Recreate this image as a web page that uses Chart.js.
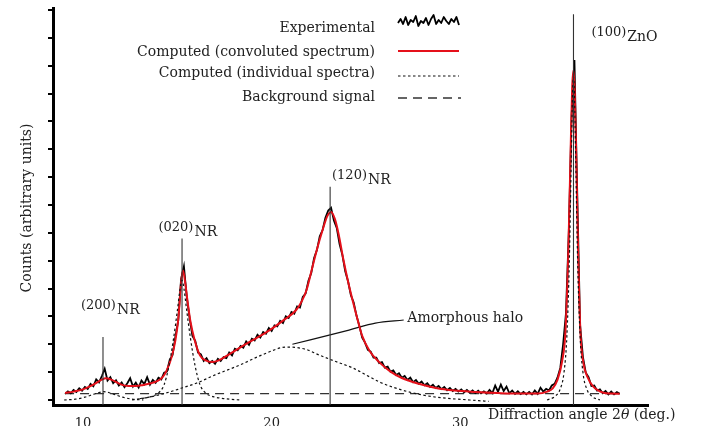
<!DOCTYPE html>
<html>
<head>
<meta charset="utf-8">
<script src="https://cdn.jsdelivr.net/npm/chart.js@4.4.1/dist/chart.umd.min.js"></script>
<style>
  html, body { margin: 0; padding: 0; background: #fff; }
</style>
</head>
<body>
<canvas id="chart" width="713" height="426"></canvas>
<script>
// experimental diffractogram (counts, arbitrary units) vs 2theta
const expX = [
  9.05, 9.2, 9.35, 9.5, 9.65, 9.8, 9.95, 10.1, 10.25, 10.4,
  10.55, 10.7, 10.85, 11.0, 11.15, 11.3, 11.45, 11.6, 11.75, 11.9,
  12.05, 12.2, 12.35, 12.5, 12.65, 12.8, 12.95, 13.1, 13.25, 13.4,
  13.55, 13.7, 13.85, 14.0, 14.15, 14.3, 14.45, 14.6, 14.75, 14.9,
  15.05, 15.2, 15.35, 15.5, 15.65, 15.8, 15.95, 16.1, 16.25, 16.4,
  16.55, 16.7, 16.85, 17.0, 17.15, 17.3, 17.45, 17.6, 17.75, 17.9,
  18.05, 18.2, 18.35, 18.5, 18.65, 18.8, 18.95, 19.1, 19.25, 19.4,
  19.55, 19.7, 19.85, 20.0, 20.15, 20.3, 20.45, 20.6, 20.75, 20.9,
  21.05, 21.2, 21.35, 21.5, 21.65, 21.8, 21.95, 22.1, 22.25, 22.4,
  22.55, 22.7, 22.85, 23.0, 23.15, 23.3, 23.45, 23.6, 23.75, 23.9,
  24.05, 24.2, 24.35, 24.5, 24.65, 24.8, 24.95, 25.1, 25.25, 25.4,
  25.55, 25.7, 25.85, 26.0, 26.15, 26.3, 26.45, 26.6, 26.75, 26.9,
  27.05, 27.2, 27.35, 27.5, 27.65, 27.8, 27.95, 28.1, 28.25, 28.4,
  28.55, 28.7, 28.85, 29.0, 29.15, 29.3, 29.45, 29.6, 29.75, 29.9,
  30.05, 30.2, 30.35, 30.5, 30.65, 30.8, 30.95, 31.1, 31.25, 31.4,
  31.55, 31.7, 31.85, 32.0, 32.15, 32.3, 32.45, 32.6, 32.75, 32.9,
  33.05, 33.2, 33.35, 33.5, 33.65, 33.8, 33.95, 34.1, 34.25, 34.4,
  34.55, 34.7, 34.85, 35.0, 35.15, 35.3, 35.45, 35.6, 35.75, 35.9,
  36.05, 36.2, 36.35, 36.5, 36.65, 36.8, 36.95, 37.1, 37.25, 37.4,
  37.55, 37.7, 37.85, 38.0, 38.15, 38.3, 38.45
];
const expY = [
  0.22, 0.31, 0.24, 0.36, 0.29, 0.42, 0.33, 0.47, 0.40, 0.58,
  0.49, 0.74, 0.63, 0.86, 1.12, 0.70, 0.82, 0.60, 0.71, 0.52,
  0.63, 0.46, 0.60, 0.78, 0.48, 0.62, 0.45, 0.70, 0.57, 0.82,
  0.55, 0.72, 0.62, 0.80, 0.74, 0.98, 1.02, 1.45, 1.62, 2.28,
  2.85, 4.35, 4.80, 3.70, 2.95, 2.30, 2.12, 1.70, 1.64, 1.40,
  1.50, 1.32, 1.40, 1.30, 1.48, 1.40, 1.54, 1.50, 1.70, 1.60,
  1.84, 1.78, 1.94, 1.88, 2.10, 1.98, 2.20, 2.14, 2.34, 2.24,
  2.44, 2.38, 2.58, 2.48, 2.68, 2.64, 2.84, 2.76, 3.00, 2.94,
  3.16, 3.10, 3.36, 3.32, 3.70, 3.82, 4.28, 4.56, 5.10, 5.38,
  5.88, 6.10, 6.54, 6.80, 6.90, 6.44, 6.18, 5.60, 5.20, 4.62,
  4.26, 3.76, 3.50, 3.02, 2.66, 2.24, 2.06, 1.80, 1.74, 1.52,
  1.52, 1.32, 1.36, 1.16, 1.20, 1.02, 1.06, 0.90, 0.96, 0.80,
  0.86, 0.72, 0.80, 0.64, 0.72, 0.58, 0.66, 0.53, 0.60, 0.47,
  0.55, 0.43, 0.50, 0.39, 0.47, 0.35, 0.43, 0.32, 0.40, 0.30,
  0.38, 0.28, 0.36, 0.26, 0.34, 0.25, 0.33, 0.24, 0.31, 0.23,
  0.36, 0.25, 0.52, 0.30, 0.55, 0.32, 0.48, 0.24, 0.34, 0.22,
  0.31, 0.21, 0.29, 0.20, 0.29, 0.20, 0.34, 0.22, 0.44, 0.30,
  0.40, 0.34, 0.52, 0.58, 0.80, 1.15, 2.00, 3.10, 6.00, 10.20,
  12.20, 7.40, 2.70, 1.55, 0.98, 0.82, 0.50, 0.52, 0.34, 0.38,
  0.24, 0.32, 0.20, 0.30, 0.20, 0.28, 0.22
];

// computed convoluted spectrum
const fitX = [
  9.05, 9.5, 10.0, 10.5, 11.0, 11.2, 11.5, 12.0, 12.4, 12.8,
  13.2, 13.6, 13.9, 14.2, 14.45, 14.7, 14.9, 15.05, 15.2, 15.3,
  15.4, 15.55, 15.7, 15.9, 16.2, 16.5, 16.85, 17.2, 17.7, 18.3,
  19.0, 19.9, 20.6, 21.3, 21.6, 21.85, 22.1, 22.4, 22.7, 22.95,
  23.15, 23.35, 23.55, 23.8, 24.05, 24.3, 24.55, 24.8, 25.2, 25.7,
  26.3, 26.9, 27.8, 28.7, 29.7, 30.8, 32.0, 33.0, 34.1, 34.6,
  34.9, 35.15, 35.4, 35.57, 35.73, 35.85, 35.93, 36.0, 36.07, 36.15,
  36.25, 36.37, 36.52, 36.74, 37.05, 37.59, 38.0, 38.45
];
const fitY = [
  0.25, 0.30, 0.38, 0.53, 0.73, 0.78, 0.73, 0.56, 0.50, 0.50,
  0.54, 0.60, 0.67, 0.80, 1.08, 1.55, 2.15, 2.90, 4.20, 4.65,
  4.30, 3.50, 2.80, 2.20, 1.60, 1.42, 1.36, 1.42, 1.62, 1.87,
  2.15, 2.51, 2.85, 3.23, 3.55, 3.95, 4.60, 5.40, 6.10, 6.60,
  6.75, 6.50, 5.95, 5.05, 4.25, 3.55, 2.90, 2.30, 1.75, 1.36,
  1.02, 0.79, 0.58, 0.43, 0.34, 0.29, 0.25, 0.23, 0.23, 0.30,
  0.42, 0.72, 1.40, 2.40, 5.40, 9.00, 11.20, 11.84, 11.00, 8.60,
  5.20, 2.40, 1.35, 0.83, 0.48, 0.26, 0.23, 0.22
];

// computed individual spectra
const p200X = [9.0, 9.6, 10.1, 10.5, 10.8, 11.1, 11.4, 11.7, 12.1, 12.6, 13.2];
const p200Y = [0.0, 0.03, 0.10, 0.19, 0.26, 0.30, 0.26, 0.19, 0.10, 0.03, 0.0];
const p020X = [13.0, 13.6, 14.0, 14.3, 14.55, 14.8, 15.0, 15.15, 15.25, 15.35, 15.5, 15.7, 15.95, 16.2, 16.5, 16.9, 17.5, 18.3];
const p020Y = [0.05, 0.12, 0.25, 0.55, 1.20, 2.20, 3.20, 4.00, 4.30, 4.00, 3.20, 2.20, 1.20, 0.55, 0.25, 0.12, 0.05, 0.0];
const haloX = [12.6, 13.5, 14.4, 15.2, 16.0, 17.0, 18.3, 19.5, 20.8, 21.8, 22.5, 23.4, 24.3, 25.0, 25.8, 26.9, 28.0, 29.0, 30.5, 31.5];
const haloY = [0.0, 0.10, 0.25, 0.42, 0.60, 0.90, 1.25, 1.62, 1.90, 1.82, 1.62, 1.38, 1.15, 0.90, 0.62, 0.36, 0.18, 0.08, 0.0, -0.05];
const znoX = [34.6, 35.0, 35.3, 35.5, 35.65, 35.78, 35.88, 35.95, 36.0, 36.05, 36.12, 36.22, 36.35, 36.5, 36.7, 37.0, 37.4];
const znoY = [0.0, 0.12, 0.40, 1.00, 2.30, 5.00, 8.60, 11.00, 11.60, 11.00, 8.60, 5.00, 2.30, 1.00, 0.40, 0.12, 0.0];

// background signal
const bgX = [9.05, 38.45];
const bgY = [0.23, 0.23];

// peak markers and labels
const peakName = ['(200)', '(020)', '(120)', '(100)'];
const peakPhase = ['NR', 'NR', 'NR', 'ZnO'];
const peakPos = [11.06, 15.25, 23.1, 36.0];
const peakTop = [2.26, 5.8, 7.65, 13.85];

// axis ticks
const xTicks = [10, 20, 30];

const labelAt = [[9.89, 3.27], [14.0, 6.07], [23.2, 7.93], [36.95, 13.07]];
const haloLeaderX = [21.1, 24.1, 25.5, 27.0];
const haloLeaderY = [2.0, 2.51, 2.76, 2.87];

const legendNames = ['Experimental', 'Computed (convoluted spectrum)', 'Computed (individual spectra)', 'Background signal'];
const legendNoise = [0, -4, 1, -6, 2, -3, -1, -7, 3, -2, 0, -5, 2, -4, -8, 1, -3, 0, -6, -2, 1, -4, -1, -6, 2];

const pts = (xs, ys) => xs.map((x, i) => ({ x: x, y: ys[i] }));
const SERIF = '"DejaVu Serif", serif';
const INK = '#222';

const dotted = (xs, ys) => ({
  data: pts(xs, ys),
  borderColor: '#111',
  borderWidth: 1.2,
  borderDash: [2.5, 2.5],
  pointRadius: 0,
  cubicInterpolationMode: 'monotone',
});

const markers = peakPos.map((p, i) => ({
  data: [{ x: p, y: -0.18 }, { x: p, y: peakTop[i] }],
  borderColor: '#333',
  borderWidth: 1.1,
  pointRadius: 0,
}));

const overlay = {
  id: 'overlay',
  afterDatasetsDraw(chart) {
    const { ctx, chartArea } = chart;
    const sx = chart.scales.x, sy = chart.scales.y;
    ctx.save();
    ctx.fillStyle = INK;
    ctx.textAlign = 'left';
    ctx.textBaseline = 'alphabetic';

    // peak labels
    peakName.forEach((name, i) => {
      const px = sx.getPixelForValue(labelAt[i][0]);
      const py = sy.getPixelForValue(labelAt[i][1]);
      ctx.font = '13px ' + SERIF;
      ctx.fillText(name, px, py);
      const w = ctx.measureText(name).width;
      ctx.font = '14px ' + SERIF;
      ctx.fillText(peakPhase[i], px + w + 1, py + 5);
    });

    // amorphous halo text
    ctx.font = '14px ' + SERIF;
    ctx.fillText('Amorphous halo', sx.getPixelForValue(27.19), sy.getPixelForValue(2.8));

    // y title
    ctx.save();
    ctx.translate(27, 208);
    ctx.rotate(-Math.PI / 2);
    ctx.textAlign = 'center';
    ctx.textBaseline = 'middle';
    ctx.font = '14px ' + SERIF;
    ctx.fillText('Counts (arbitrary units)', 0, 0);
    ctx.restore();

    // x title
    ctx.textBaseline = 'alphabetic';
    let tx = 488, ty = 419;
    ctx.font = '14px ' + SERIF;
    const a = 'Diffraction angle 2';
    ctx.fillText(a, tx, ty);
    tx += ctx.measureText(a).width;
    ctx.font = 'italic 14px ' + SERIF;
    ctx.fillText('\u03B8', tx, ty);
    tx += ctx.measureText('\u03B8').width;
    ctx.font = '14px ' + SERIF;
    ctx.fillText(' (deg.)', tx, ty);

    // legend
    const textY = [28, 52, 73, 97];
    const lineY = [20, 51, 76, 98];
    ctx.font = '14px ' + SERIF;
    ctx.textAlign = 'right';
    ctx.textBaseline = 'middle';
    legendNames.forEach((n, i) => ctx.fillText(n, 375, textY[i]));
    const x0 = 398, x1 = 459;
    ctx.lineJoin = 'round';
    // experimental sample
    ctx.strokeStyle = '#000';
    ctx.lineWidth = 1.8;
    ctx.beginPath();
    legendNoise.forEach((d, k) => {
      const px = x0 + (x1 - x0) * k / (legendNoise.length - 1);
      k ? ctx.lineTo(px, lineY[0] + d + 3) : ctx.moveTo(px, lineY[0] + d + 3);
    });
    ctx.stroke();
    // red
    ctx.strokeStyle = '#e5101a';
    ctx.lineWidth = 2;
    ctx.beginPath(); ctx.moveTo(x0, lineY[1]); ctx.lineTo(x1, lineY[1]); ctx.stroke();
    // dotted
    ctx.strokeStyle = '#111';
    ctx.lineWidth = 1.2;
    ctx.setLineDash([2.5, 2.5]);
    ctx.beginPath(); ctx.moveTo(x0, lineY[2]); ctx.lineTo(x1, lineY[2]); ctx.stroke();
    // dashed
    ctx.strokeStyle = '#333';
    ctx.lineWidth = 1.3;
    ctx.setLineDash([9, 6]);
    ctx.beginPath(); ctx.moveTo(x0, lineY[3]); ctx.lineTo(x1 + 2, lineY[3]); ctx.stroke();
    ctx.restore();
  }
};

new Chart(document.getElementById('chart'), {
  type: 'line',
  data: {
    datasets: [
      ...markers,
      dotted(p200X, p200Y),
      dotted(p020X, p020Y),
      dotted(haloX, haloY),
      dotted(znoX, znoY),
      {
        data: pts(fitX, fitY),
        borderColor: '#e5101a',
        borderWidth: 2,
        pointRadius: 0,
        cubicInterpolationMode: 'monotone',
      },
      {
        data: pts(expX, expY),
        borderColor: '#000',
        borderWidth: 1.8,
        pointRadius: 0,
        tension: 0,
      },
      {
        data: pts(bgX, bgY),
        borderColor: '#333',
        borderWidth: 1.3,
        borderDash: [9, 6],
        pointRadius: 0,
      },
      {
        data: pts(haloLeaderX, haloLeaderY),
        borderColor: '#111',
        borderWidth: 1.2,
        pointRadius: 0,
        cubicInterpolationMode: 'monotone',
      },
    ],
  },
  options: {
    responsive: false,
    animation: false,
    layout: { padding: { left: 0, top: 8, right: 65, bottom: 0 } },
    plugins: { legend: { display: false }, tooltip: { enabled: false } },
    scales: {
      x: {
        type: 'linear',
        min: 8.41,
        max: 39.95,
        border: { display: true, color: '#000', width: 3 },
        grid: { display: false, drawTicks: false, tickLength: 0 },
        afterBuildTicks: (s) => { s.ticks = xTicks.map((v) => ({ value: v })); },
        ticks: {
          font: { family: SERIF, size: 13 },
          color: INK,
          padding: 11,
          maxRotation: 0,
          autoSkip: false,
        },
        afterFit: (s) => { s.height = 21; },
      },
      y: {
        min: -0.18,
        max: 14.07,
        border: { display: true, color: '#000', width: 3 },
        grid: { drawOnChartArea: false, drawTicks: true, tickLength: 5, color: '#000', lineWidth: 2 },
        ticks: { display: false, stepSize: 1, includeBounds: false },
        afterFit: (s) => { s.width = 53; },
      },
    },
  },
  plugins: [overlay],
});
</script>
</body>
</html>
